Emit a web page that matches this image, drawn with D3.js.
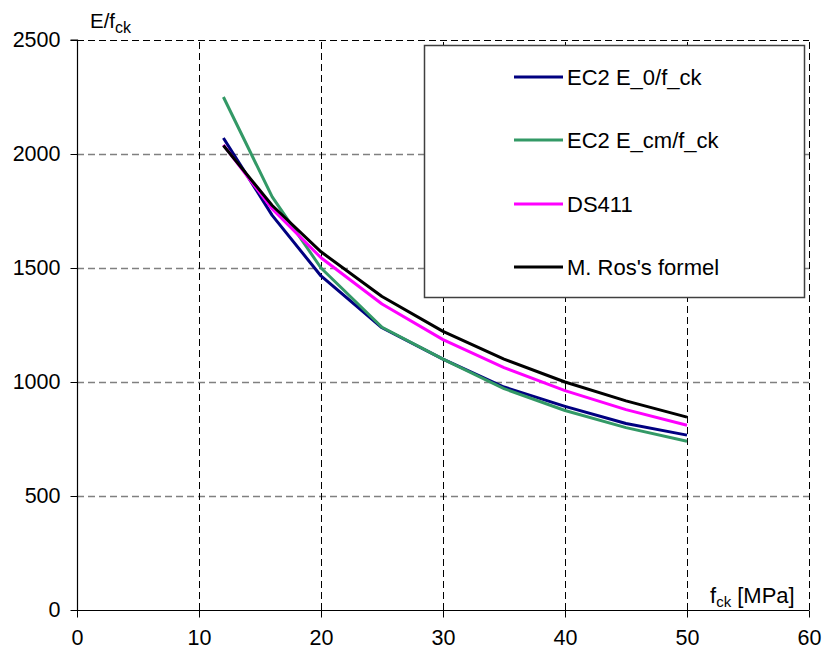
<!DOCTYPE html>
<html><head><meta charset="utf-8">
<script src="https://cdn.jsdelivr.net/npm/d3@7"></script>
<style>
html,body{margin:0;padding:0;background:#fff;}
svg{display:block;font-family:"Liberation Sans",Arial,sans-serif;}
</style></head>
<body>
<svg id="c" width="826" height="649"></svg>
<script>
const fck = [12, 16, 20, 25, 30, 35, 40, 45, 50];
const ec2E0 = [2070, 1731, 1465, 1238, 1100, 978, 893, 818, 767];
const ec2Ecm = [2250, 1812, 1500, 1240, 1100, 971, 875, 800, 740];
const ds411 = [2040, 1759, 1545, 1342, 1186, 1063, 962, 879, 810];
const ros = [2037, 1774, 1571, 1375, 1222, 1100, 1000, 917, 846];
const seriesNames = ["EC2 E_0/f_ck", "EC2 E_cm/f_ck", "DS411", "M. Ros's formel"];
const seriesColors = ["#000080", "#339966", "#FF00FF", "#000000"];
const xTicks = [0, 10, 20, 30, 40, 50, 60];
const yTicks = [0, 500, 1000, 1500, 2000, 2500];

const series = [ec2E0, ec2Ecm, ds411, ros];
const svg = d3.select("#c");
const x = d3.scaleLinear().domain([0, 60]).range([77, 809]);
const y = d3.scaleLinear().domain([0, 2500]).range([610, 40]);

// gridlines
const g = svg.append("g");
g.selectAll(".hg").data(yTicks.filter(d => d > 0)).enter().append("line")
  .attr("x1", x(0)).attr("x2", x(60))
  .attr("y1", d => y(d) + 0.5).attr("y2", d => y(d) + 0.5)
  .attr("stroke", d => d === 2500 ? "#000" : "#808080").attr("stroke-width", d => d === 2500 ? 1 : 1.5)
  .attr("stroke-dasharray", "7,4");
g.selectAll(".vg").data(xTicks.filter(d => d > 0)).enter().append("line")
  .attr("y1", y(0)).attr("y2", y(2500))
  .attr("x1", d => x(d) + 0.5).attr("x2", d => x(d) + 0.5)
  .attr("stroke", "#000").attr("stroke-width", 1)
  .attr("stroke-dasharray", "7,4");

// axes
const fmt = d3.format("d");
const xAxis = svg.append("g").attr("transform", `translate(0,${y(0) + 0.5})`)
  .call(d3.axisBottom(x).tickValues(xTicks).tickFormat(fmt).tickSize(7).tickPadding(12));
const yAxis = svg.append("g").attr("transform", `translate(${x(0) + 0.5},0)`)
  .call(d3.axisLeft(y).tickValues(yTicks).tickFormat(fmt).tickSize(7).tickPadding(10));
[xAxis, yAxis].forEach(a => {
  a.select(".domain").attr("stroke", "#000").attr("stroke-width", 1.2);
  a.selectAll(".tick line").attr("stroke", "#000");
  a.selectAll("text").attr("font-size", 21.5).attr("fill", "#000")
    .attr("font-family", '"Liberation Sans",Arial,sans-serif');
});
yAxis.select(".domain").attr("d", `M-7,${y(2500)}H0V${y(0)}`);
xAxis.select(".domain").attr("d", `M${x(0) - 0.5},0H${x(60)}`);

// series
const line = d3.line().x((d, i) => x(fck[i])).y(d => y(d));
series.forEach((s, k) => {
  svg.append("path").datum(s).attr("d", line)
    .attr("fill", "none").attr("stroke", seriesColors[k])
    .attr("stroke-width", 3).attr("stroke-linejoin", "round");
});

// legend
const lg = svg.append("g");
lg.append("rect").attr("x", 424.5).attr("y", 45.5).attr("width", 380).attr("height", 252)
  .attr("fill", "#fff").attr("stroke", "#404040").attr("stroke-width", 1.5);
const ly = [77, 140, 204, 267];
seriesNames.forEach((n, k) => {
  lg.append("line").attr("x1", 514).attr("x2", 563).attr("y1", ly[k]).attr("y2", ly[k])
    .attr("stroke", seriesColors[k]).attr("stroke-width", 3);
  lg.append("text").attr("x", 567).attr("y", ly[k] + 8).attr("font-size", 22)
    .attr("fill", "#000").text(n);
});

// axis titles
const yt = svg.append("text").attr("x", 90).attr("y", 28).attr("font-size", 20.5).attr("fill", "#000");
yt.append("tspan").text("E/f");
yt.append("tspan").attr("dy", 5).attr("font-size", 16).text("ck");

const xt = svg.append("text").attr("x", 710).attr("y", 603).attr("font-size", 22).attr("fill", "#000");
xt.append("tspan").text("f");
xt.append("tspan").attr("dy", 4).attr("font-size", 15).text("ck");
xt.append("tspan").attr("dy", -4).text(" [MPa]");
</script>
</body></html>
